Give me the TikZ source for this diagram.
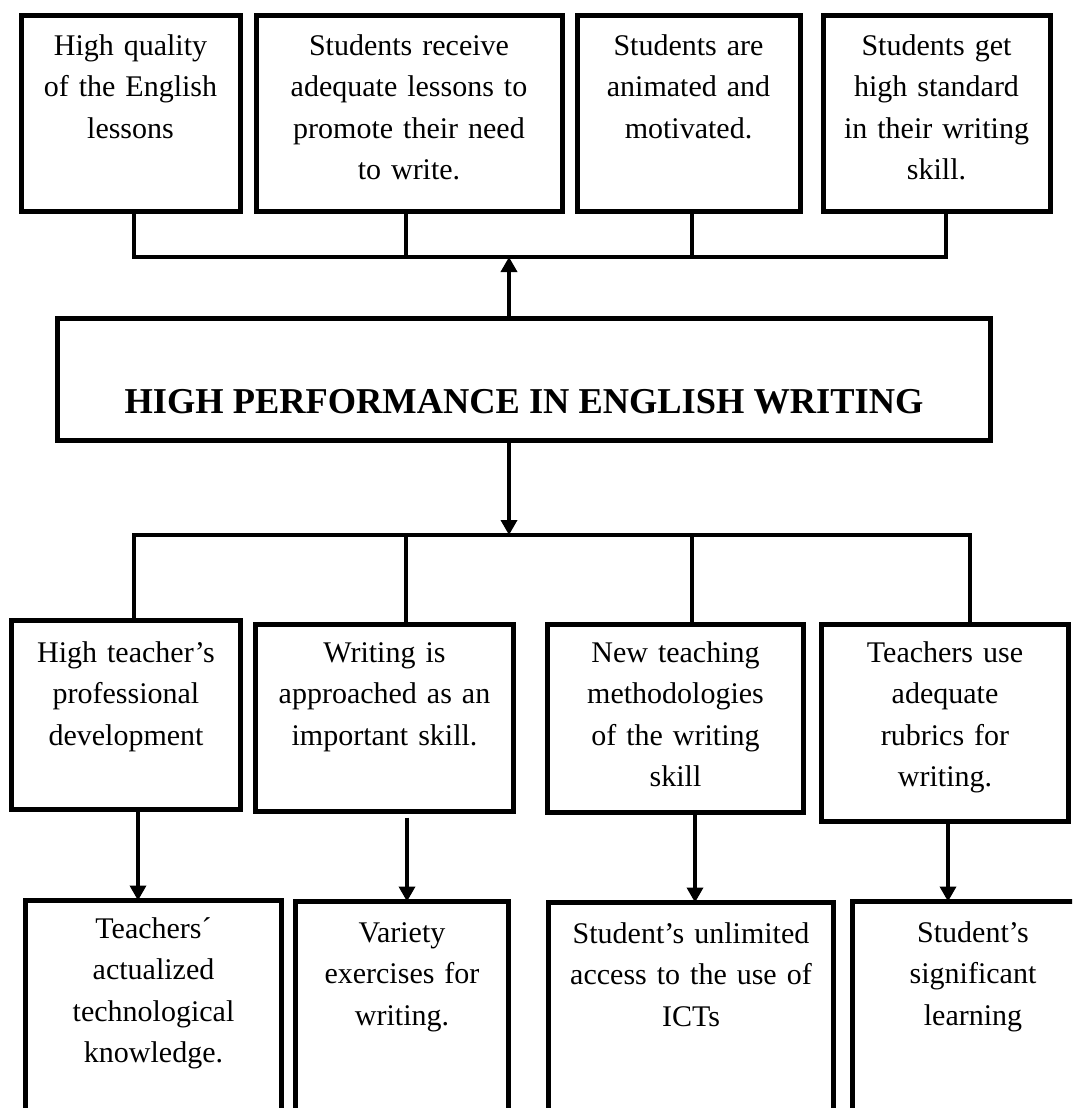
\documentclass[tikz,border=0pt]{standalone}
\usepackage{fontspec}
\setmainfont{Liberation Serif}
\usepackage{tikz}
\usetikzlibrary{arrows.meta}
\tikzset{
  plainbox/.style={draw=black, line width=2.5pt, inner sep=0pt, outer sep=0pt,
    align=center, anchor=north west, font=\fontsize{15}{20.75}\selectfont},
  endbox/.style={plainbox, text height=19.75pt, text depth=78.25pt},
  meanbox/.style={plainbox, text height=18.75pt},
  basebox/.style={plainbox, text height=20.25pt, text depth=89pt},
  titlebox/.style={draw=black, line width=2.5pt, inner sep=0pt, outer sep=0pt,
    anchor=north west, font=\fontsize{18.2}{22}\selectfont\bfseries,
    minimum width=466.5pt, text height=47.25pt, text depth=13.75pt},
  link/.style={line width=1.75pt},
  flow/.style={-{Triangle[length=7.5pt,width=8pt]}, line width=1.75pt}
}

\begin{document}
\begin{tikzpicture}[x=0.5pt, y=-0.5pt]
\useasboundingbox (0,0) rectangle (1072,1108);
\clip (0,0) rectangle (1072,1108);

% ends
\node[endbox, text width=109.5pt] (quality) at (21,15.5)
{High quality\\of the English\\lessons};
\node[endbox, text width=153pt] (lessons) at (256,15.5)
{Students receive\\adequate lessons to\\promote their need\\to write.};
\node[endbox, text width=111.5pt] (motiv) at (577,15.5)
{Students are\\animated and\\motivated.};
\node[endbox, text width=113.5pt] (standard) at (823,15.5)
{Students get\\high standard\\in their writing\\skill.};

% core
\node[titlebox] (perf) at (57.5,318.5) {HIGH PERFORMANCE IN ENGLISH WRITING};
\coordinate (upbar) at (509,257);
\coordinate (downbar) at (509,535);

% means
\node[meanbox, text width=114.5pt, text height=20.75pt, text depth=73.75pt] (devel) at (11.5,620.5)
{High teacher's\\professional\\development};
\node[meanbox, text width=129pt, text depth=74.75pt] (approach) at (255.5,624.5)
{Writing is\\approached as an\\important skill.};
\node[meanbox, text width=128pt, text depth=75.25pt] (method) at (547.5,624.5)
{New teaching\\methodologies\\of the writing\\skill};
\node[meanbox, text width=123.5pt, text depth=79.75pt] (rubric) at (821.5,624.5)
{Teachers use\\adequate\\rubrics for\\writing.};

% basic means
\node[basebox, text width=128pt, text height=18.75pt] (techknow) at (25.5,900.5)
{Teachers´\\actualized\\technological\\knowledge.};
\node[basebox, text width=106.5pt] (variety) at (295.5,901.5)
{Variety\\exercises for\\writing.};
\node[basebox, text width=142.5pt] (ictaccess) at (548.5,902.5)
{Student's unlimited\\access to the use of\\ICTs};
\node[basebox, text width=120.5pt] (learning) at (852.5,901.5)
{Student's\\significant\\learning};

% upper bar
\draw[link] ([xshift=1.75pt]quality.south) |- (upbar) -| ([xshift=4.75pt]standard.south);
\draw[link] ([xshift=-1.5pt]lessons.south) -- ([xshift=-1.5pt]lessons.south |- upbar);
\draw[link] ([xshift=1.75pt]motiv.south) -- ([xshift=1.75pt]motiv.south |- upbar);
\draw[flow] (perf.north -| upbar) -- (upbar);

% lower bar
\draw[flow] (perf.south -| downbar) -- (downbar);
\draw[link] ([xshift=4pt]devel.north) |- (downbar) -| ([xshift=12.5pt]rubric.north);
\draw[link] ([xshift=10.75pt]approach.north) -- ([xshift=10.75pt]approach.north |- downbar);
\draw[link] ([xshift=8.25pt]method.north) -- ([xshift=8.25pt]method.north |- downbar);

% to the basic means
\draw[flow] ([xshift=6pt]devel.south) -- ([xshift=6pt]devel.south |- techknow.north);
\draw[flow, shorten <=3pt] ([xshift=11.25pt]approach.south) -- ([xshift=11.25pt]approach.south |- variety.north);
\draw[flow] ([xshift=9.75pt]method.south) -- ([xshift=9.75pt]method.south |- ictaccess.north);
\draw[flow] ([xshift=1.5pt]rubric.south) -- ([xshift=1.5pt]rubric.south |- learning.north);
\end{tikzpicture}
\end{document}
